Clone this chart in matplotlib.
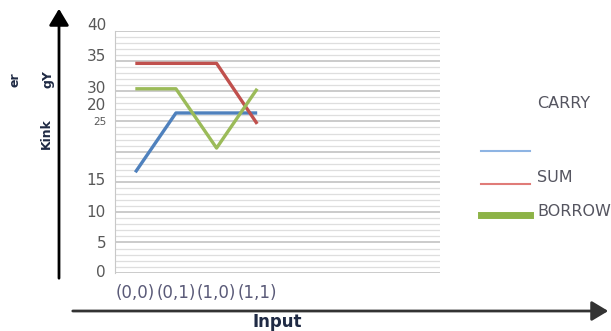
import numpy as np
import matplotlib
matplotlib.use("Agg")
import matplotlib.pyplot as plt

# data
inputs = ["(0,0)", "(0,1)", "(1,0)", "(1,1)"]
carry = [16.6, 26.4, 26.4, 26.4]
sum_ = [34.6, 34.6, 34.6, 24.6]
borrow = [30.4, 30.4, 20.6, 30.4]

ytick_pos = [0, 4.9, 9.9, 15.3, 24.9, 27.6, 30.5, 35.8, 40.8]
ytick_txt = ["0", "5", "10", "15", "25", "20", "30", "35", "40"]

plt.rcParams['font.family'] = ['DejaVu Sans']

W, H = 611, 331
fig = plt.figure(figsize=(W / 100, H / 100), dpi=100)
ax = fig.add_axes([115 / W, 1 - 272.7 / H, 325 / W, 242 / H])

x = np.arange(len(inputs))
ax.plot(x, carry, color="#4f81bd", lw=2.4, solid_capstyle="butt")
ax.plot(x, sum_, color="#c0504d", lw=2.4, solid_capstyle="butt")
ax.plot(x, borrow, color="#9bbb59", lw=2.4, solid_capstyle="butt")

ax.set_xlim(-0.5, 7.5)
ax.set_ylim(0, 40)

# grid: light minor lines every unit, darker ones every 5
for v in np.arange(0, 41, 1):
    if v % 5 == 0:
        ax.axhline(v, color="#bdbdbd", lw=1.1, zorder=0)
    else:
        ax.axhline(v, color="#dedede", lw=0.9, zorder=0)

for s in ["top", "right", "bottom"]:
    ax.spines[s].set_visible(False)
ax.spines["left"].set_color("#c8c8c8")
ax.set_xticks([])
ax.set_yticks([])

for p, t in zip(ytick_pos, ytick_txt):
    ax.text(-0.72, p, t, ha="right", va="center", color="#585858",
            fontsize=7.5 if t == "25" else 11, clip_on=False)

for i, lab in enumerate(inputs):
    ax.text(i, -3.4, lab, ha="center", va="center", color="#5a5a78",
            fontsize=12, clip_on=False)

# arrows drawn in figure coordinates
fig.patches.append(matplotlib.patches.FancyArrowPatch(
    (59 / W, 1 - 281 / H), (59 / W, 1 - 6 / H), transform=fig.transFigure,
    arrowstyle="-|>,head_length=0.5,head_width=0.3", mutation_scale=20,
    color="black", lw=2))
fig.patches.append(matplotlib.patches.FancyArrowPatch(
    (70 / W, 1 - 311 / H), (611 / W, 1 - 311 / H), transform=fig.transFigure,
    arrowstyle="-|>,head_length=0.5,head_width=0.3", mutation_scale=20,
    color="#333333", lw=2))

fig.text(277 / W, 1 - 322 / H, "Input", ha="center", va="center",
         fontsize=12, fontweight="bold", color="#1f2a44")
fig.text(15 / W, 1 - 80 / H, "er", rotation=90, ha="center", va="center",
         fontsize=9, fontweight="bold", color="#1f2a44")
fig.text(48 / W, 1 - 79 / H, "gY", rotation=90, ha="center", va="center",
         fontsize=9, fontweight="bold", color="#1f2a44")
fig.text(46 / W, 1 - 134 / H, "Kink", rotation=90, ha="center", va="center",
         fontsize=9, fontweight="bold", color="#1f2a44")

# hand-placed legend
fig.add_artist(plt.Line2D([481 / W, 530 / W], [1 - 151 / H] * 2, color="#8eb4e3", lw=1.5))
fig.add_artist(plt.Line2D([481 / W, 530 / W], [1 - 184 / H] * 2, color="#e07b78", lw=1.5))
fig.add_artist(plt.Line2D([481 / W, 530 / W], [1 - 215 / H] * 2, color="#8db347", lw=5))
fig.text(537 / W, 1 - 103 / H, "CARRY", ha="left", va="center", fontsize=11.5, color="#555560")
fig.text(537 / W, 1 - 177 / H, "SUM", ha="left", va="center", fontsize=11.5, color="#555560")
fig.text(537 / W, 1 - 212 / H, "BORROW", ha="left", va="center", fontsize=11.5, color="#555560")

fig.savefig("out.png", dpi=100)
